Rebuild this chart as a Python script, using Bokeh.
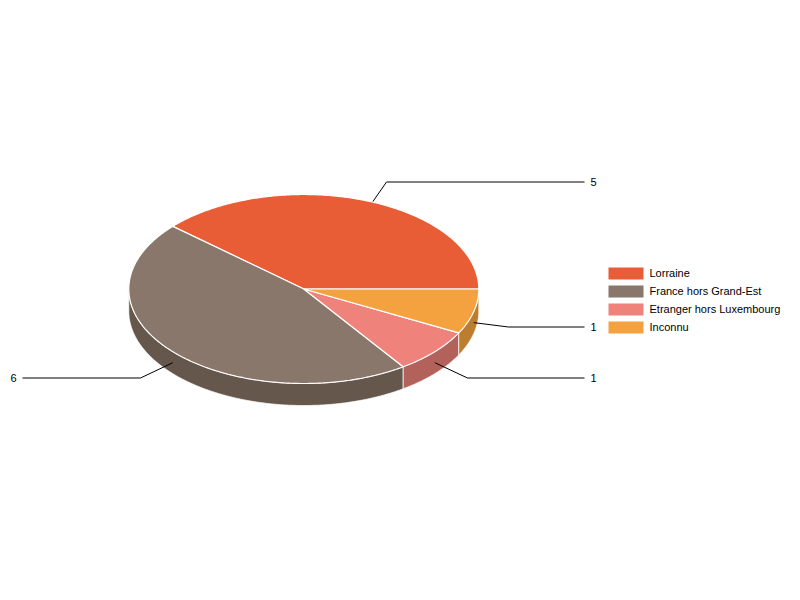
import numpy as np
from bokeh.plotting import figure
from bokeh.models import Range1d
from bokeh.core.properties import value
from bokeh.embed import file_html
from bokeh.resources import INLINE

categories = ["Lorraine", "France hors Grand-Est", "Etranger hors Luxembourg", "Inconnu"]
values = [5, 6, 1, 1]
top_colors = ["#E95D36", "#88776A", "#EF827A", "#F4A13F"]
side_colors = ["#B04728", "#66574D", "#B2625A", "#BC7D2F"]

# layout of the pie, in picture pixels
CX, CY, RX, RY, DEPTH = 303.3, 288.5, 175.0, 94.5, 22.0
elbow_x = [386, 140, 467, 508]
row_y = [181.5, 377.5, 377.5, 326.5]
end_x = [584, 22, 584, 584]
label_x = [590, 10, 590, 590]
legend_y = [273, 291, 309, 327]
TEXT_NUDGE = -0.5

p = figure(width=784, height=584, output_backend="svg", toolbar_location=None,
           x_range=Range1d(0, 784), y_range=Range1d(584, 0),
           min_border=0, outline_line_color=None, background_fill_color="white",
           border_fill_color="white")
p.axis.visible = False
p.grid.visible = False


def arc(a0, a1):
    t = np.radians(np.linspace(a0, a1, max(int(abs(a1 - a0) * 2), 2)))
    return CX + RX * np.cos(t), CY - RY * np.sin(t)


fractions = np.array(values) / sum(values)
edges = np.concatenate([[0.0], np.cumsum(fractions) * 360.0])

# side walls: only the front half of the ring (180..360 degrees) shows
for i in range(len(values)):
    a0, a1 = max(edges[i], 180.0), edges[i + 1]
    if a1 <= a0:
        continue
    x, y = arc(a0, a1)
    xs = np.concatenate([x, x[::-1]])
    ys = np.concatenate([y, y[::-1] + DEPTH])
    p.patch(xs, ys, fill_color=side_colors[i], line_color="white", line_width=0.8, line_alpha=0.9)

# leader lines run under the top face, from the middle of the wall to the label
for i in range(len(values)):
    mid = np.radians((edges[i] + edges[i + 1]) / 2)
    ax = CX + RX * np.cos(mid)
    ay = CY - RY * np.sin(mid) + DEPTH / 2
    p.line([ax, elbow_x[i], end_x[i]], [ay, row_y[i], row_y[i]], line_color="#000000", line_width=1)
    p.text([label_x[i]], [row_y[i] + TEXT_NUDGE], text=[str(values[i])], text_font=value("Liberation Sans"),
           text_font_size="11px", text_color="#000000", text_baseline="middle", text_align="left")

# top faces
for i in range(len(values)):
    x, y = arc(edges[i], edges[i + 1])
    xs = np.concatenate([[CX], x])
    ys = np.concatenate([[CY], y])
    p.patch(xs, ys, fill_color=top_colors[i], line_color="white", line_width=1.2)

# legend
for i, name in enumerate(categories):
    p.quad(left=[608], right=[643], top=[legend_y[i] - 6], bottom=[legend_y[i] + 6],
           fill_color=top_colors[i], line_color=None)
    p.text([649], [legend_y[i] - 1], text=[name], text_font=value("Liberation Sans"),
           text_font_size="11px", text_color="#000000", text_baseline="middle", text_align="left")

open("out.html", "w").write(file_html(p, INLINE))
